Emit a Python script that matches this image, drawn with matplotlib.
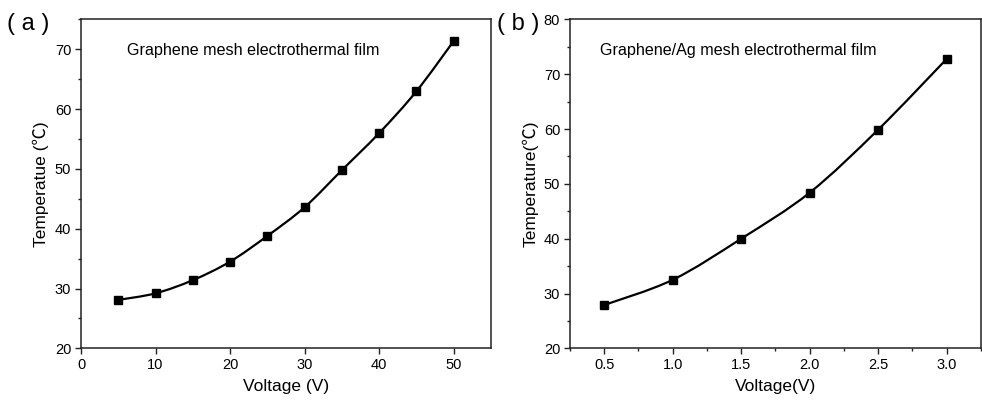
import matplotlib
matplotlib.use("Agg")
import matplotlib.pyplot as plt
import numpy as np
from matplotlib.patches import PathPatch
from matplotlib.path import Path
from matplotlib.ticker import MultipleLocator

plt.rcParams["font.family"] = ["Liberation Sans", "Noto Sans CJK SC"]

# panel (a): graphene mesh
voltage_a = [5, 10, 15, 20, 25, 30, 35, 40, 45, 50]
temp_a = [28.1, 29.2, 31.4, 34.5, 38.8, 43.6, 49.8, 56.0, 63.0, 71.4]

# panel (b): graphene/Ag mesh
voltage_b = [0.5, 1.0, 1.5, 2.0, 2.5, 3.0]
temp_b = [27.9, 32.5, 40.0, 48.4, 59.9, 72.8]

TITLE_A = "Graphene mesh electrothermal film"
TITLE_B = "Graphene/Ag mesh electrothermal film"


def smooth_path(x, y) -> Path:
    # Catmull-Rom through the data points, drawn as cubic Bezier segments
    pts = np.column_stack([x, y]).astype(float)
    verts = [pts[0]]
    codes = [Path.MOVETO]
    for i in range(len(pts) - 1):
        p0 = pts[i - 1] if i > 0 else pts[i]
        p1, p2 = pts[i], pts[i + 1]
        p3 = pts[i + 2] if i + 2 < len(pts) else pts[i + 1]
        verts += [p1 + (p2 - p0) / 6, p2 - (p3 - p1) / 6, p2]
        codes += [Path.CURVE4] * 3
    return Path(verts, codes)


def style_axes(ax) -> None:
    for spine in ax.spines.values():
        spine.set_linewidth(1.1)
        spine.set_color("#222222")
    ax.tick_params(which="major", direction="out", length=4, width=1.0, labelsize=10.5,
                   color="#222222", pad=3)
    ax.tick_params(which="minor", direction="out", length=2.5, width=1.0, color="#222222")


fig = plt.figure(figsize=(9.82, 4.03), dpi=100)
ax_a = fig.add_axes([0.0825, 0.1357, 0.4175, 0.816])
ax_b = fig.add_axes([0.5804, 0.1357, 0.4185, 0.816])

# (a)
ax_a.add_patch(PathPatch(smooth_path(voltage_a, temp_a), facecolor="none",
                         edgecolor="black", linewidth=1.6))
ax_a.plot(voltage_a, temp_a, linestyle="none", marker="s", markersize=5.5, color="black")
ax_a.set_xlim(0, 55)
ax_a.set_ylim(20, 75)
ax_a.xaxis.set_major_locator(MultipleLocator(10))
ax_a.yaxis.set_major_locator(MultipleLocator(10))
ax_a.yaxis.set_minor_locator(MultipleLocator(5))
ax_a.set_xlabel("Voltage (V)", fontsize=12.5, labelpad=5)
ax_a.set_ylabel("Temperatue (℃)", fontsize=12.5, labelpad=4)
ax_a.text(0.113, 0.905, TITLE_A, transform=ax_a.transAxes, fontsize=11.6, va="center")
style_axes(ax_a)

# (b)
ax_b.add_patch(PathPatch(smooth_path(voltage_b, temp_b), facecolor="none",
                         edgecolor="black", linewidth=1.6))
ax_b.plot(voltage_b, temp_b, linestyle="none", marker="s", markersize=5.5, color="black")
ax_b.set_xlim(0.25, 3.25)
ax_b.set_ylim(20, 80)
ax_b.xaxis.set_major_locator(MultipleLocator(0.5))
ax_b.xaxis.set_minor_locator(MultipleLocator(0.25))
ax_b.yaxis.set_major_locator(MultipleLocator(10))
ax_b.yaxis.set_minor_locator(MultipleLocator(5))
ax_b.xaxis.set_major_formatter(lambda v, pos: f"{v:.1f}")
ax_b.set_xlabel("Voltage(V)", fontsize=12.5, labelpad=5)
ax_b.set_ylabel("Temperature(℃)", fontsize=12.5, labelpad=4)
ax_b.text(0.073, 0.905, TITLE_B, transform=ax_b.transAxes, fontsize=11.6, va="center")
style_axes(ax_b)

# panel letters
fig.text(0.007, 0.94, "( a )", fontsize=17, va="center")
fig.text(0.506, 0.94, "( b )", fontsize=17, va="center")

fig.savefig("out.png", dpi=100)
